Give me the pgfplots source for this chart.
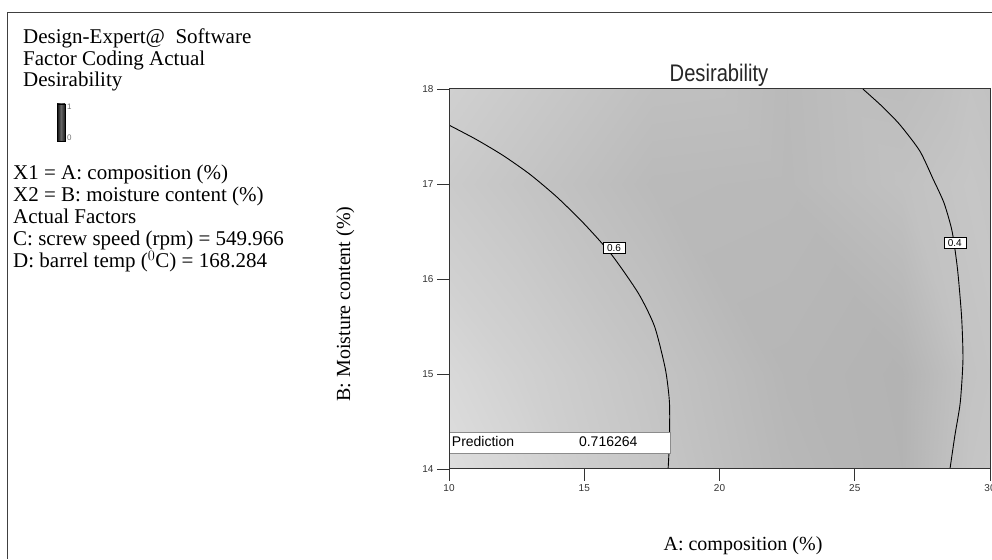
\documentclass[border=0pt]{standalone}
\usepackage{fontspec}
\setmainfont{Liberation Serif}
\setsansfont{Liberation Sans}
\usepackage{pgfplots}
\usepackage{pgfplotstable}
\pgfplotsset{compat=1.18}

% grey level (0-255) of the shaded desirability surface
\pgfplotstableread{
x y c
10 14 232
15 14 219
20 14 201
25 14 186
28.5 14 180
30 14 198
10 16 224
15 16 209
20 16 196
25 16 182
28.5 16 179
30 16 195
10 18 208
15 18 197
20 18 186
25 18 185
28.5 18 193
30 18 198
}\shadetab

\begin{document}
\begin{tikzpicture}[x=1pt,y=1pt]
\useasboundingbox (0,0) rectangle (992,559);
\fill[white] (0,0) rectangle (992,559);
\draw[black!75, line width=1pt] (7.5,0) -- (7.5,546.5) -- (992,546.5);

% left information panel
\begin{scope}[every node/.style={anchor=base west, inner sep=0pt, font=\fontsize{21}{22}\selectfont}]
\node at (23,515) {Design-Expert@\ \ Software};
\node at (23,493) {Factor Coding Actual};
\node at (23,472) {Desirability};
\node at (13,379) {X1 = A: composition (\%)};
\node at (13,357) {X2 = B: moisture content (\%)};
\node at (13,335) {Actual Factors};
\node at (13,313) {C: screw speed (rpm) = 549.966};
\node at (13,291) {D: barrel temp ($^{0}$C) = 168.284};
\end{scope}
\shade[left color=black!95, right color=black!90, middle color=black!60] (57,418) rectangle (65,455);
\draw[black, line width=0.5pt] (57,418) rectangle (65,455);
\node[anchor=west, inner sep=0pt, text=black!55, font=\sffamily\fontsize{8}{8}\selectfont] at (67,452) {1};
\node[anchor=west, inner sep=0pt, text=black!55, font=\sffamily\fontsize{8}{8}\selectfont] at (67,421) {0};

% titles and axis labels
\node[anchor=base, inner sep=0pt, text=black!85] at (719,477) {\scalebox{0.84}[1]{\sffamily\fontsize{24}{24}\selectfont Desirability}};
\node[anchor=base, inner sep=0pt, font=\fontsize{20}{20}\selectfont] at (743,9) {A: composition (\%)};
\node[anchor=base, rotate=90, inner sep=0pt, font=\fontsize{20}{20}\selectfont] at (350,255) {B: Moisture content (\%)};

\begin{axis}[
  at={(449pt,90pt)}, anchor=south west,
  scale only axis, width=541pt, height=380pt,
  xmin=10, xmax=30, ymin=14, ymax=18,
  xtick={10,15,20,25,30}, ytick={14,15,16,17,18},
  tick pos=left, tick align=outside, major tick length=12pt,
  axis line style={black!80, line width=1pt},
  every tick/.style={black!80, line width=0.9pt},
  ticklabel style={font=\sffamily\fontsize{10}{10}\selectfont, text=black!80},
  /pgf/number format/assume math mode=true,
  colormap={greys}{gray(0cm)=(0); gray(1cm)=(1)},
  point meta min=0, point meta max=255,
  axis on top,
]
\addplot[matrix plot*, mesh/cols=6, point meta=explicit, shader=interp] table[meta=c] {\shadetab};

% contour 0.6
\addplot[black, line width=0.9pt, smooth, tension=0.4] coordinates {
(10,17.62) (11,17.47) (12,17.30) (13,17.10) (14,16.86) (15,16.58) (16,16.26)
(17,15.85) (17.6,15.50) (18,15.05) (18.15,14.70) (18.15,14.30) (18.1,14.0)};
% contour 0.4
\addplot[black, line width=0.9pt, smooth, tension=0.4] coordinates {
(25.3,18.0) (26.0,17.82) (26.65,17.63) (27.4,17.35) (27.9,17.05) (28.3,16.8)
(28.6,16.5) (28.8,16.1) (28.95,15.6) (29.0,15.15) (28.9,14.7) (28.7,14.35) (28.52,14.0)};

\node[draw=black, fill=white, line width=0.6pt, inner xsep=4pt, inner ysep=2pt, text height=7pt, text depth=0pt, font=\sffamily\fontsize{10}{10}\selectfont] at (axis cs:16.1,16.33) {0.6};
\node[draw=black, fill=white, line width=0.6pt, inner xsep=4pt, inner ysep=2pt, text height=7pt, text depth=0pt, font=\sffamily\fontsize{10}{10}\selectfont] at (axis cs:28.7,16.38) {0.4};

% prediction box
\draw[black!45, fill=white, line width=0.8pt] (axis cs:10,14.16) rectangle (axis cs:18.2,14.39);
\node[anchor=base west, inner sep=0pt, font=\sffamily\fontsize{14}{14}\selectfont] at (axis cs:10.1,14.235) {Prediction};
\node[anchor=base west, inner sep=0pt, font=\sffamily\fontsize{14}{14}\selectfont] at (axis cs:14.8,14.235) {0.716264};
\end{axis}
\end{tikzpicture}
\end{document}
